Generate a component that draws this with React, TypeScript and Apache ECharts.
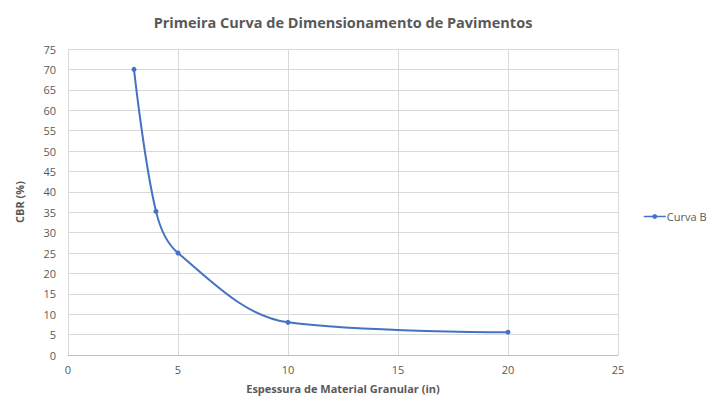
import React, { useEffect, useRef } from "react";
import * as echarts from "echarts";

const thickness = [3, 4, 5, 10, 20];
const cbr = [70, 35.2, 25, 8, 5.6];
const seriesName = "Curva B";
const titleText = "Primeira Curva de Dimensionamento de Pavimentos";
const xName = "Espessura de Material Granular (in)";
const yName = "CBR (%)";

export default function App() {
  const ref = useRef<HTMLDivElement>(null);
  useEffect(() => {
    const chart = echarts.init(ref.current!, null, { renderer: "svg" });
    const font = "'Open Sans', Calibri, sans-serif";
    chart.setOption({
      animation: false,
      textStyle: { fontFamily: font },
      title: {
        text: titleText,
        left: 338,
        textAlign: "center",
        top: 10,
        textStyle: { fontSize: 14.5, fontWeight: "bold", color: "#595959", fontFamily: font },
      },
      legend: {
        orient: "vertical",
        left: 638,
        top: 206,
        itemWidth: 22,
        itemHeight: 6,
        itemGap: 4,
        lineStyle: { width: 1.5 },
        textStyle: { fontSize: 11, color: "#595959", padding: [0, 0, 0, -4] },
        data: [seriesName],
      },
      grid: { left: 68, right: 101, top: 49, bottom: 44 },
      xAxis: {
        type: "value",
        min: 0,
        max: 25,
        interval: 5,
        name: xName,
        nameLocation: "middle",
        nameGap: 28,
        nameTextStyle: { fontSize: 11, fontWeight: "bold", color: "#595959" },
        axisLine: { show: true, lineStyle: { color: "#bfbfbf" } },
        axisTick: { show: false },
        axisLabel: { fontSize: 11, color: "#595959", margin: 9 },
        splitLine: { show: true, lineStyle: { color: "#d9d9d9" } },
      },
      yAxis: {
        type: "value",
        min: 0,
        max: 75,
        interval: 5,
        name: yName,
        nameLocation: "middle",
        nameGap: 43,
        nameTextStyle: { fontSize: 11, fontWeight: "bold", color: "#595959" },
        axisLine: { show: false },
        axisTick: { show: false },
        axisLabel: { fontSize: 11, color: "#595959", margin: 12 },
        splitLine: { show: true, lineStyle: { color: "#d9d9d9" } },
      },
      series: [
        {
          name: seriesName,
          type: "line",
          data: thickness.map((x, i) => [x, cbr[i]]),
          smooth: 0.35,
          symbol: "circle",
          symbolSize: 5,
          lineStyle: { color: "#4472C4", width: 2 },
          itemStyle: { color: "#4472C4" },
        },
      ],
    });
    return () => chart.dispose();
  }, []);
  return <div ref={ref} style={{ width: 719, height: 399, position: "absolute", left: 0, top: 0 }} />;
}
